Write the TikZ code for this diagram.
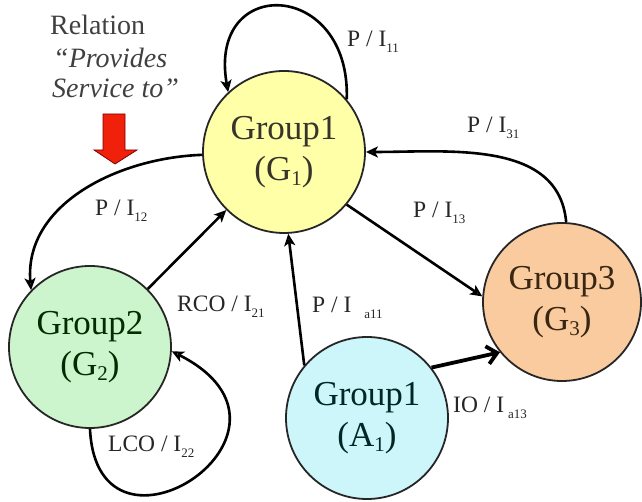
\documentclass[tikz,border=0pt]{standalone}
\usepackage{fontspec}
\setmainfont{Liberation Serif}
\usetikzlibrary{arrows.meta}

\definecolor{grpyellow}{HTML}{FFFFA8}
\definecolor{grpgreen}{HTML}{CDF5CD}
\definecolor{grporange}{HTML}{FACB9E}
\definecolor{grpcyan}{HTML}{CCF6FA}
\definecolor{relred}{HTML}{F0200A}

\newcommand{\lidx}[1]{\raisebox{-0.5ex}{\fontsize{13}{13}\selectfont #1}}
\newcommand{\gidx}[1]{\raisebox{-0.35ex}{\fontsize{21}{21}\selectfont #1}}

\begin{document}
\begin{tikzpicture}[x=1pt, y=1pt, >={Stealth[open,length=12pt,width=11pt,inset=3pt]},
  grp/.style={circle, draw=black!85, line width=1.8pt, minimum size=162pt, inner sep=0pt,
    align=center, font=\fontsize{35}{41}\selectfont},
  lbl/.style={anchor=base west, inner sep=0pt, font=\fontsize{23.5}{23.5}\selectfont, text=black!85},
  note/.style={anchor=base west, inner sep=0pt, font=\fontsize{28}{28}\selectfont, text=black!75},
  rel/.style={line width=2.6pt}]
  \useasboundingbox (0,0) rectangle (642,502);

  % groups
  \node[grp, fill=grpyellow, text=black!80!olive] (G1) at (284,350) {Group1\\(G\gidx{1})};
  \node[grp, fill=grpgreen, text=black!70!green!60!black] (G2) at (90,155) {Group2\\(G\gidx{2})};
  \node[grp, fill=grporange, minimum size=158pt, text=black!70!brown] (G3) at (562,200) {Group3\\(G\gidx{3})};
  \node[grp, fill=grpcyan, text=black!70!teal] (A1) at (367,84) {Group1\\(A\gidx{1})};

  % relation note
  \node[note] (relA) at (50,467) {Relation};
  \node[note, font=\fontsize{28}{28}\selectfont\itshape] (relB) at (53,434) {“Provides};
  \node[note, font=\fontsize{28}{28}\selectfont\itshape] (relC) at (52,404) {Service to”};
  \filldraw[fill=relred, draw=red!50!black, line width=0.8pt]
    (103,388) -- (125,388) -- (125,352) -- (137,352) -- (115,338) -- (94,352) -- (103,352) -- cycle;

  % connectors
  \draw[rel,->] (G1.40) .. controls +(88:120) and +(100:120) .. (G1.133);
  \draw[rel,->] (G1.182) to[out=182,in=95] (G2.136);
  \draw[rel,->] (G2) -- (G1);
  \draw[rel,->] (G2.-90) .. controls +(7,-154) and +(158,-80) .. (G2.-3);
  \draw[rel,->] (G1.-40) -- (G3.176);
  \draw[rel,->] (G3.87) to[out=95,in=0] (G1.0);
  \draw[rel,->] (A1.140) -- (G1.-87);
  \draw[line width=3.8pt, -{Straight Barb[length=10pt,width=18pt]}] (A1.38) -- (G3.219);

  % labels
  \node[lbl] (l11) at (347,455) {P / I\lidx{11}};
  \node[lbl] (l12) at (95,286) {P / I\lidx{12}};
  \node[lbl] (l21) at (177,190) {RCO / I\lidx{21}};
  \node[lbl] (l22) at (108,50) {LCO / I\lidx{22}};
  \node[lbl] (l13) at (413,284) {P / I\lidx{13}};
  \node[lbl] (l31) at (467,369) {P / I\lidx{31}};
  \node[lbl] (la11) at (312,189) {P / I\hspace{13pt}\lidx{a11}};
  \node[lbl] (la13) at (453,89) {IO / I\hspace{4pt}\lidx{a13}};
\end{tikzpicture}
\end{document}
